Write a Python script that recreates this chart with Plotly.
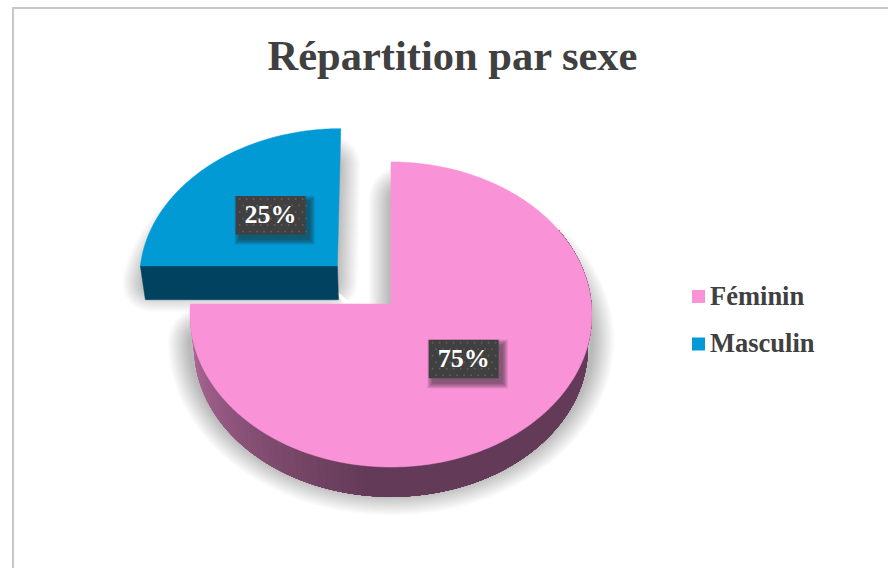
import numpy as np
import plotly.graph_objects as go

# ---- data ----
categories = ["Féminin", "Masculin"]
values = [75, 25]
labels = ["75%", "25%"]
title_text = "Répartition par sexe"

# ---- styling / geometry ----
W, H = 888, 568
CX, CY, RX, RY, K = 391.0, 304.0, 200.5, 151.8, 0.0688
PULL = {1: (-0.272, -0.255)}
DEPTH_SCALE, DEPTH_Y = 0.98, 33.0
TOP = ["#F992D6", "#029AD5"]
SIDE_DARK = ["#633A57", "#004260"]
SERIF = "Liberation Serif"
INK = "#404040"


def project(theta_deg, r, pull=(0.0, 0.0), bottom=False):
    t = np.radians(np.asarray(theta_deg, dtype=float))
    X = r * np.sin(t) + pull[0]
    Y = -r * np.cos(t) + pull[1]
    w = 1.0 / (1.0 - K * Y)
    x, y = RX * X * w, RY * Y * w
    if bottom:
        return CX + x * DEPTH_SCALE, CY + y * DEPTH_SCALE + DEPTH_Y
    return CX + x, CY + y


def wedge(a0, a1, pull, bottom=False):
    th = np.linspace(a0, a1, 220)
    ax, ay = project(th, 1.0, pull, bottom)
    cx, cy = project(0.0, 0.0, pull, bottom)
    return np.r_[cx, ax, cx], np.r_[cy, ay, cy]


def rounded(x, y, step=4.0, win=7):
    """Resample a closed outline evenly and round its corners, so thick strokes stay soft."""
    s = np.r_[0, np.cumsum(np.hypot(np.diff(x), np.diff(y)))]
    u = np.arange(0, s[-1], step)
    rx, ry = np.interp(u, s, x), np.interp(u, s, y)
    kernel = np.ones(win) / win
    pad = win
    sx = np.convolve(np.r_[rx[-pad:], rx, rx[:pad]], kernel, mode="same")[pad:-pad]
    sy = np.convolve(np.r_[ry[-pad:], ry, ry[:pad]], kernel, mode="same")[pad:-pad]
    return np.r_[sx, sx[0]], np.r_[sy, sy[0]]


def poly(x, y, fill, line=None, lw=0.0):
    return go.Scatter(
        x=x, y=y, mode="lines", fill="toself", fillcolor=fill, hoverinfo="skip",
        line=dict(color=line or fill, width=lw, simplify=False), showlegend=False,
    )


total = sum(values)
angles = np.cumsum([0] + values) * 360.0 / total
traces = []

# soft drop shadows (pink first, then blue)
for i, dy, widths, alpha in [(0, 26.0, np.arange(2.5, 46, 2.5), 0.015),
                             (1, 26.0, np.arange(2.5, 42, 2.5), 0.017)]:
    pull = PULL.get(i, (0.0, 0.0))
    sx, sy = rounded(*wedge(angles[i], angles[i + 1], pull))
    c = f"rgba(0,0,0,{alpha})"
    for lw in widths[::-1]:
        traces.append(go.Scatter(x=sx, y=sy + dy, mode="lines",
                                 line=dict(color=c, width=float(lw), simplify=False),
                                 hoverinfo="skip", showlegend=False))

# blue wedge: side then top
pull = PULL[1]
a = angles[1]
x0, y0 = project(a, 1.0, pull)
x1, y1 = project(0.0, 0.0, pull)
x2, y2 = project(0.0, 0.0, pull, True)
x3, y3 = project(a, 1.0, pull, True)
traces.append(poly([x0, x1, x2, x3, x0], [y0, y1, y2, y3, y0], SIDE_DARK[1], lw=0.5))
bx, by = wedge(angles[1], angles[2], pull)
traces.append(poly(bx, by, TOP[1], lw=0.5))

# pink wedge: side with shading, then top (each strip paints through to the dark end, so no seams)
light, dark = np.array([186, 112, 162]), np.array([99, 58, 87])
strip_edges = np.linspace(angles[1], 185.0, 40)
for k in range(len(strip_edges) - 1):
    th = np.linspace(strip_edges[k], 60.0, 120)
    f = (k / (len(strip_edges) - 2)) ** 0.9
    col = light + (dark - light) * f
    c = f"rgb({col[0]:.0f},{col[1]:.0f},{col[2]:.0f})"
    ax, ay = project(th, 1.0)
    vx, vy = project(th, 1.0, bottom=True)
    traces.append(poly(np.r_[ax, vx[::-1]], np.r_[ay, vy[::-1]], c))
px, py = wedge(angles[0], angles[1], (0.0, 0.0))
traces.append(poly(px, py, TOP[0], lw=0.5))

# data label boxes
bw, bh = 70.0, 38.5
for i, lab in enumerate(labels):
    mid = (angles[i] + angles[i + 1]) / 2
    lx, ly = project(mid, 0.5, PULL.get(i, (0.0, 0.0)))
    rx = np.array([-1, 1, 1, -1, -1]) * bw / 2
    ry = np.array([-1, -1, 1, 1, -1]) * bh / 2
    for grow in (5, 3.5, 2, 0.5):
        gx = rx + np.sign(rx) * grow + 4
        gy = ry + np.sign(ry) * grow + 5
        traces.append(poly(lx + gx, ly + gy, "rgba(30,30,30,0.16)"))
    traces.append(poly(lx + rx, ly + ry, "#404040"))
    gxs, gys = np.meshgrid(np.arange(-bw / 2 + 4, bw / 2 - 1, 7.0), np.arange(-bh / 2 + 3, bh / 2 - 1, 6.5))
    gxs = gxs + (np.arange(gxs.shape[0])[:, None] % 2) * 3.5
    traces.append(go.Scatter(x=(lx + gxs).ravel(), y=(ly + gys).ravel(), mode="markers",
                             marker=dict(size=2, color="#5C5C5C"), hoverinfo="skip", showlegend=False))
    traces.append(go.Scatter(x=[lx], y=[ly + 1], mode="text", text=[lab], textposition="middle center",
                             textfont=dict(family=SERIF, size=26, color="white", weight="bold"),
                             hoverinfo="skip", showlegend=False))

# legend
for i, name in enumerate(categories):
    yy = 296.5 + i * 47.5
    traces.append(go.Scatter(x=[698.5], y=[yy], mode="markers",
                             marker=dict(symbol="square", size=13, color=TOP[i]),
                             hoverinfo="skip", showlegend=False))
    traces.append(go.Scatter(x=[710], y=[yy + 1.5], mode="text", text=[name], textposition="middle right",
                             textfont=dict(family=SERIF, size=26.5, color=INK, weight="bold"),
                             hoverinfo="skip", showlegend=False))

fig = go.Figure(traces)
fig.update_layout(
    width=W, height=H, margin=dict(l=0, r=0, t=0, b=0), paper_bgcolor="white", plot_bgcolor="white",
    xaxis=dict(range=[0, W], visible=False, fixedrange=True),
    yaxis=dict(range=[H, 0], visible=False, fixedrange=True),
    showlegend=False,
    title=dict(text=f"<b>{title_text}</b>", x=452.5 / W, y=1 - 55 / H, xanchor="center", yanchor="middle",
               font=dict(family=SERIF, size=42.5, color=INK)),
    shapes=[
        dict(type="line", xref="x", yref="y", x0=13, x1=13, y0=8, y1=H, line=dict(color="#C8C8C8", width=2)),
        dict(type="line", xref="x", yref="y", x0=12, x1=W, y0=8, y1=8, line=dict(color="#C8C8C8", width=2)),
    ],
)
fig.write_html("out.html", config=dict(displayModeBar=False),
               post_script="document.body.style.margin='0';document.body.style.overflow='hidden';")
